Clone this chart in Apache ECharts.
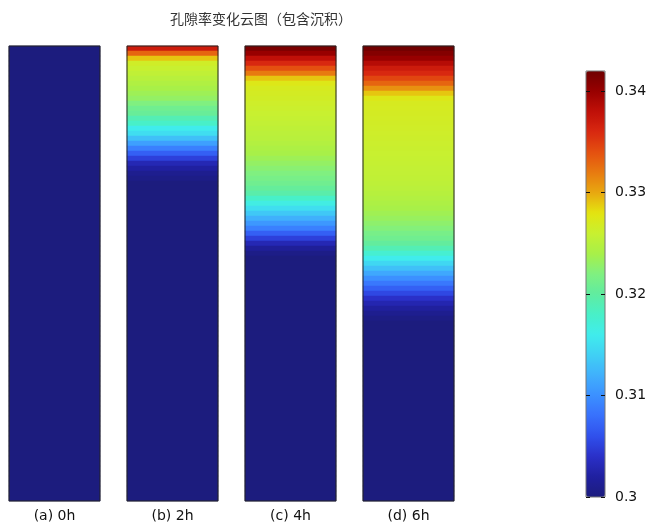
<!DOCTYPE html>
<html>
<head>
<meta charset="utf-8">
<script src="https://cdn.jsdelivr.net/npm/echarts@6/dist/echarts.min.js"></script>
<style>html,body{margin:0;padding:0;background:#fff;}#c{width:655px;height:524px;}</style>
</head>
<body>
<div id="c"></div>
<script>
// ---- data (porosity per depth row, top row first) ----
var panelLabels = ['(a) 0h', '(b) 2h', '(c) 4h', '(d) 6h'];
var colorbarTicks = [0.30, 0.31, 0.32, 0.33, 0.34];
var porosityMin = 0.3;
var porosityMax = 0.342;

var porosity0h = [
 0.3,0.3,0.3,0.3,0.3,0.3,0.3,0.3,0.3,0.3,
 0.3,0.3,0.3,0.3,0.3,0.3,0.3,0.3,0.3,0.3,
 0.3,0.3,0.3,0.3,0.3,0.3,0.3,0.3,0.3,0.3,
 0.3,0.3,0.3,0.3,0.3,0.3,0.3,0.3,0.3,0.3,
 0.3,0.3,0.3,0.3,0.3,0.3,0.3,0.3,0.3,0.3,
 0.3,0.3,0.3,0.3,0.3,0.3,0.3,0.3,0.3,0.3,
 0.3,0.3,0.3,0.3,0.3,0.3,0.3,0.3,0.3,0.3,
 0.3,0.3,0.3,0.3,0.3,0.3,0.3,0.3,0.3,0.3,
 0.3,0.3,0.3,0.3,0.3,0.3,0.3,0.3,0.3,0.3,
 0.3
];
var porosity2h = [
 0.337,0.333,0.329,0.3265,0.326,0.3255,0.325,0.3245,0.324,0.3235,
 0.323,0.322,0.321,0.3205,0.319,0.318,0.316,0.315,0.313,0.311,
 0.309,0.307,0.305,0.303,0.302,0.301,0.3005,0.3,0.3,0.3,
 0.3,0.3,0.3,0.3,0.3,0.3,0.3,0.3,0.3,0.3,
 0.3,0.3,0.3,0.3,0.3,0.3,0.3,0.3,0.3,0.3,
 0.3,0.3,0.3,0.3,0.3,0.3,0.3,0.3,0.3,0.3,
 0.3,0.3,0.3,0.3,0.3,0.3,0.3,0.3,0.3,0.3,
 0.3,0.3,0.3,0.3,0.3,0.3,0.3,0.3,0.3,0.3,
 0.3,0.3,0.3,0.3,0.3,0.3,0.3,0.3,0.3,0.3,
 0.3
];
var porosity4h = [
 0.3415,0.340,0.338,0.336,0.334,0.332,0.329,0.3275,0.327,0.3268,
 0.3266,0.3264,0.3262,0.326,0.3258,0.3256,0.3254,0.3252,0.325,0.3247,
 0.3243,0.324,0.3235,0.323,0.3225,0.322,0.3215,0.321,0.3203,0.3195,
 0.318,0.3165,0.315,0.3135,0.312,0.3105,0.309,0.307,0.305,0.303,
 0.3015,0.3005,0.3,0.3,0.3,0.3,0.3,0.3,0.3,0.3,
 0.3,0.3,0.3,0.3,0.3,0.3,0.3,0.3,0.3,0.3,
 0.3,0.3,0.3,0.3,0.3,0.3,0.3,0.3,0.3,0.3,
 0.3,0.3,0.3,0.3,0.3,0.3,0.3,0.3,0.3,0.3,
 0.3,0.3,0.3,0.3,0.3,0.3,0.3,0.3,0.3,0.3,
 0.3
];
var porosity6h = [
 0.342,0.341,0.340,0.3385,0.337,0.336,0.3345,0.333,0.331,0.329,
 0.3275,0.327,0.3269,0.3268,0.3267,0.3266,0.3265,0.3264,0.3263,0.3262,
 0.3261,0.326,0.3259,0.3258,0.3257,0.3256,0.3255,0.3253,0.3251,0.3249,
 0.3246,0.3243,0.324,0.3236,0.3232,0.3227,0.3222,0.3215,0.321,0.3202,
 0.319,0.3175,0.316,0.3145,0.313,0.3115,0.310,0.3085,0.307,0.3055,
 0.304,0.3028,0.3018,0.301,0.3004,0.3,0.3,0.3,0.3,0.3,
 0.3,0.3,0.3,0.3,0.3,0.3,0.3,0.3,0.3,0.3,
 0.3,0.3,0.3,0.3,0.3,0.3,0.3,0.3,0.3,0.3,
 0.3,0.3,0.3,0.3,0.3,0.3,0.3,0.3,0.3,0.3,
 0.3
];
var panels = [porosity0h, porosity2h, porosity4h, porosity6h];

// ---- chart ----
var jetColors = ['#1c1c7e','#2020a0','#2a30c8','#3050ec','#3870fc','#3c90ff','#40b0fc','#40d0f4',
  '#40ecec','#48f0c8','#60eca0','#80f080','#a8f048','#c8f030','#e4e410','#e8a810',
  '#e87a10','#e45010','#d82810','#c01008','#980000','#700000'];

var FONT = 'DejaVu Sans';
var chart = echarts.init(document.getElementById('c'), null, {renderer: 'canvas'});
var grids = [], xAxes = [], yAxes = [], series = [];
var lefts = [9, 127, 245, 363];
panels.forEach(function (vals, k) {
  grids.push({left: lefts[k], top: 46, width: 91, height: 455, show: true,
    borderColor: '#222', borderWidth: 1, backgroundColor: 'transparent', z: 5});
  xAxes.push({type: 'category', gridIndex: k, data: [panelLabels[k]],
    axisLine: {show: false}, axisTick: {show: false}, splitLine: {show: false},
    axisLabel: {show: true, color: '#111', fontSize: 14, fontFamily: FONT, margin: 8}});
  yAxes.push({type: 'category', gridIndex: k, inverse: true, show: false,
    data: vals.map(function (v, i) { return String(i); })});
  series.push({type: 'heatmap', xAxisIndex: k, yAxisIndex: k,
    data: vals.map(function (v, i) { return [0, i, v]; }),
    itemStyle: {borderWidth: 0}, emphasis: {disabled: true}, progressive: 0});
});
// colorbar axes grid
grids.push({left: 586, top: 71, width: 19, height: 426, show: true,
  borderColor: '#777', borderWidth: 1, backgroundColor: 'transparent', z: 10});
xAxes.push({type: 'value', gridIndex: 4, show: false});
var tickStyle = {show: true, length: 4, lineStyle: {color: '#111'}, customValues: colorbarTicks};
// labels on the right
yAxes.push({type: 'value', gridIndex: 4, min: porosityMin, max: porosityMax, position: 'right', z: 10,
  axisLine: {show: false}, splitLine: {show: false}, axisTick: {show: false},
  axisLabel: {show: true, color: '#111', fontSize: 14, fontFamily: FONT, margin: 10,
    customValues: colorbarTicks, formatter: function (v) { return String(+v.toFixed(3)); }}});
// inner ticks, left edge
yAxes.push({type: 'value', gridIndex: 4, min: porosityMin, max: porosityMax, position: 'left', z: 10,
  axisLine: {show: false}, splitLine: {show: false},
  axisTick: Object.assign({inside: true}, tickStyle), axisLabel: {show: false}});
// inner ticks, right edge
yAxes.push({type: 'value', gridIndex: 4, min: porosityMin, max: porosityMax, position: 'left', offset: -19, z: 10,
  axisLine: {show: false}, splitLine: {show: false},
  axisTick: Object.assign({inside: false}, tickStyle), axisLabel: {show: false}});

chart.setOption({
  animation: false,
  backgroundColor: '#fff',
  title: {text: '孔隙率变化云图（包含沉积）', left: 256, top: 7, textAlign: 'center',
    textStyle: {fontFamily: 'Noto Sans CJK SC', fontSize: 14, fontWeight: 'normal', color: '#333'}},
  grid: grids, xAxis: xAxes, yAxis: yAxes,
  visualMap: {type: 'continuous', min: porosityMin, max: porosityMax, calculable: false, z: 1,
    seriesIndex: [0, 1, 2, 3], left: 586, top: 71, itemWidth: 19, itemHeight: 426, padding: 0,
    text: null, showLabel: false, hoverLink: false, inRange: {color: jetColors}},
  series: series
});
</script>
</body>
</html>
